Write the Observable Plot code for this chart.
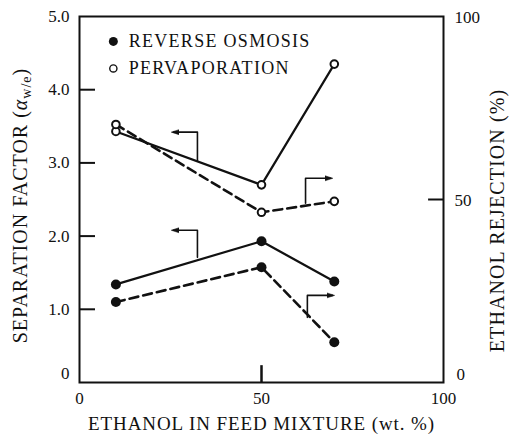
<!DOCTYPE html>
<html><head><meta charset="utf-8">
<script src="https://cdn.jsdelivr.net/npm/d3@7"></script>
<script src="https://cdn.jsdelivr.net/npm/@observablehq/plot@0.6"></script>
<style>body{margin:0;background:#fff} svg text{font-family:"Liberation Serif","Liberation Sans",sans-serif !important;}</style>
</head><body><div id="chart"></div>
<script>
// ---- data ----
const feed = [10, 50, 70];                    // ethanol in feed, wt.%
const roSeparation = [1.34, 1.93, 1.38];      // reverse osmosis, separation factor (left)
const roRejection = [22, 31.5, 11];           // reverse osmosis, ethanol rejection % (right)
const pvSeparation = [3.43, 2.70, 4.35];      // pervaporation, separation factor (left)
const pvRejection = [70.5, 46.5, 49.5];       // pervaporation, ethanol rejection % (right)
const leftTicks = [1, 2, 3, 4, 5];
const leftZero = [0];
const rightTicks = [50, 100];
const rightZero = [0];
const xTicks = [0, 50, 100];
const legendLabels = ["REVERSE OSMOSIS", "PERVAPORATION"];
const xTitle = "ETHANOL IN FEED MIXTURE (wt. %)";
const yTitle = "SEPARATION FACTOR (αw/e)";
const y2Title = "ETHANOL REJECTION (%)";
// annotation brackets (which axis each curve uses), in data units of the left axis
const bracketX = [32.4, 62.1, 32.4, 62.6];
const bracketEndX = [25.8, 69.0, 25.8, 69.5];
const bracketY1 = [3.03, 2.45, 1.71, 0.89];
const bracketY2 = [3.42, 2.79, 2.08, 1.19];
const legendX = [9.3, 13.5];
const legendY = [4.66, 4.29];

const toLeft = r => r * 5 / 100;   // right axis (0-100 %) onto left axis (0-5)

const ro = feed.map((f, i) => ({f, sep: roSeparation[i], rej: toLeft(roRejection[i])}));
const pv = feed.map((f, i) => ({f, sep: pvSeparation[i], rej: toLeft(pvRejection[i])}));
const brackets = bracketX.map((x, i) => ({id: i, pts: [
  {x, y: bracketY1[i]}, {x, y: bracketY2[i]}, {x: bracketEndX[i], y: bracketY2[i]}]}));
const bracketPts = brackets.flatMap(b => b.pts.map(p => ({...p, id: b.id})));

const ink = "#111";
const font = "'Liberation Serif', 'Liberation Sans', sans-serif";
const chart = Plot.plot({
  width: 509, height: 439,
  marginLeft: 79, marginRight: 66, marginTop: 16, marginBottom: 57,
  style: {fontFamily: font, fontSize: "17px", background: "#fff", color: ink},
  x: {domain: [0, 100]},
  y: {domain: [0, 5]},
  marks: [
    // inward ticks
    Plot.ruleY([1, 2, 3, 4], {x1: 0, x2: 4.4, stroke: ink, strokeWidth: 2}),
    Plot.ruleY([toLeft(50)], {x1: 95.9, x2: 100, stroke: ink, strokeWidth: 2}),
    Plot.ruleX([50], {y1: 0, y2: 0.23, stroke: ink, strokeWidth: 2.5}),
    Plot.frame({stroke: ink, strokeWidth: 2}),
    // tick labels
    Plot.axisY(leftTicks, {anchor: "left", tickSize: 0, tickPadding: 10, label: null,
      tickFormat: d => d.toFixed(1), fontSize: 17}),
    Plot.axisY(leftZero, {anchor: "left", tickSize: 0, tickPadding: 10, label: null,
      tickFormat: d => String(d), dy: -9, fontSize: 17}),
    Plot.axisY(rightTicks.map(toLeft), {anchor: "right", tickSize: 0, tickPadding: 11, label: null,
      tickFormat: d => String(Math.round(d * 20)), dy: 1, fontSize: 17}),
    Plot.axisY(rightZero.map(toLeft), {anchor: "right", tickSize: 0, tickPadding: 13, label: null,
      tickFormat: d => String(Math.round(d * 20)), dy: -8, fontSize: 17}),
    Plot.axisX(xTicks, {anchor: "bottom", tickSize: 0, tickPadding: 9, label: null,
      tickFormat: d => String(d), fontSize: 17}),
    // brackets
    Plot.line(bracketPts, {x: "x", y: "y", z: "id", stroke: ink, strokeWidth: 1.6, markerEnd: "arrow"}),
    // curves
    Plot.line(pv, {x: "f", y: "sep", stroke: ink, strokeWidth: 2.2}),
    Plot.line(pv, {x: "f", y: "rej", stroke: ink, strokeWidth: 2.6, strokeDasharray: "9,5"}),
    Plot.line(ro, {x: "f", y: "sep", stroke: ink, strokeWidth: 2.2}),
    Plot.line(ro, {x: "f", y: "rej", stroke: ink, strokeWidth: 2.6, strokeDasharray: "9,5"}),
    Plot.dot(ro, {x: "f", y: "sep", r: 5, fill: ink}),
    Plot.dot(ro, {x: "f", y: "rej", r: 5, fill: ink}),
    Plot.dot(pv, {x: "f", y: "sep", r: 3.8, fill: "#fff", stroke: ink, strokeWidth: 2}),
    Plot.dot(pv, {x: "f", y: "rej", r: 3.8, fill: "#fff", stroke: ink, strokeWidth: 2}),
    // legend
    Plot.dot([0], {x: () => legendX[0], y: () => legendY[0], r: 4.5, fill: ink}),
    Plot.dot([0], {x: () => legendX[0], y: () => legendY[1], r: 3.6, fill: "#fff", stroke: ink, strokeWidth: 1.4}),
    Plot.text(legendLabels, {x: () => legendX[1], y: (d, i) => legendY[i], text: d => d,
      textAnchor: "start", fontSize: 18, fill: ink}),
    // axis titles
    Plot.text([xTitle], {frameAnchor: "bottom", dy: 41, text: d => d, textAnchor: "middle", lineAnchor: "middle",
      fontSize: 19, fill: ink}),
    Plot.text([yTitle], {frameAnchor: "left", dx: -59, dy: 6, rotate: -90, text: d => d,
      textAnchor: "middle", lineAnchor: "middle", fontSize: 20, fill: ink}),
    Plot.text([y2Title], {frameAnchor: "right", dx: 54, dy: 21, rotate: -90, text: d => d,
      textAnchor: "middle", lineAnchor: "middle", fontSize: 20, fill: ink})
  ]
});

// font, letter spacing, subscript on the left title
d3.select(chart).attr("font-family", font);
d3.select(chart).selectAll("text").each(function() {
  this.setAttribute("font-family", font);
  const t = this.textContent;
  if (legendLabels.includes(t)) this.setAttribute("letter-spacing", "1.3");
  if (t === xTitle) this.setAttribute("letter-spacing", "0.9");
  if (t === y2Title) this.setAttribute("letter-spacing", "1.1");
  if (t === yTitle) {
    const el = d3.select(this);
    el.attr("letter-spacing", "1");
    el.text(null);
    el.append("tspan").text("SEPARATION FACTOR (");
    el.append("tspan").attr("font-style", "italic").text("α");
    el.append("tspan").attr("font-size", 14).attr("dy", 4).text("w/e");
    el.append("tspan").attr("dy", -4).text(")");
  }
});
// filled triangular arrowheads like the reference
d3.select(chart).selectAll("marker").each(function() {
  const m = d3.select(this);
  m.attr("fill", ink).attr("stroke", ink).attr("stroke-width", 0.5);
  m.selectAll("path").attr("d", "M-6,-2.6L2,0L-6,2.6Z");
});
document.getElementById("chart").appendChild(chart);
</script>
</body></html>
